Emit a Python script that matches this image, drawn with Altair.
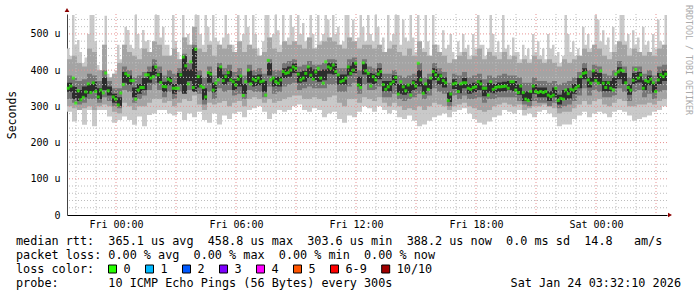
import altair as alt
import pandas as pd

FONT = "DejaVu Sans Mono"
STEP_MIN = 15
START = pd.Timestamp("2026-01-22 21:33:00", tz="UTC")
FRI0 = pd.Timestamp("2026-01-23 00:00:00", tz="UTC")


def ms(ts):
    return int(ts.timestamp() * 1000)


# ---- data (microseconds) ----
# median rtt, one value per 7.5-minute half step (None = no data)
median = [350, 356, 378, 309, 343, 318, 325, 340, 362, 338,
          365, 341, 326, 345, 337, 392, 343, None, 326, 320,
          304, 337, 360, 390, 385, 371, 371, 320, 345, 352,
          352, 387, 387, 378, 382, 409, 387, 366, 355, 354,
          375, 371, 350, 350, 350, 387, 436, 412, 362, 423,
          352, 458, 382, 356, 352, 326, 393, 389, 345, 364,
          373, 409, 371, 382, 393, 373, 368, 359, 375, 384,
          330, 368, 400, 362, 375, 371, 378, 368, 370, 331,
          427, 373, 378, 368, 364, 373, 396, 391, 393, 400,
          409, 405, 389, 373, 378, 391, 409, 386, 375, 395,
          405, 378, 364, 423, 409, 405, 414, 396, 387, 368,
          371, 378, 409, 391, 400, 419, 359, 352, 420, 398,
          391, 356, 382, 373, 389, 396, 360, 347, 354, 362,
          368, 380, 334, 368, 354, 343, 359, 331, 365, 356,
          419, 373, 336, 362, 347, 378, 396, 387, 375, 384,
          371, 365, 316, 334, 362, 364, 341, 362, 365, 365,
          350, 347, 352, 354, 368, 362, 350, 350, 331, 368,
          347, 352, 354, 354, 355, 356, 350, 368, 368, 345,
          338, 356, 338, 320, 316, 341, 356, 341, 338, 341,
          338, 341, 331, 327, 331, 350, 316, 322, 320, 345,
          335, 347, 345, 350, 356, 382, 391, 393, 373, 364,
          398, 371, 364, 398, 364, 352, 365, 350, 345, 389,
          395, 400, 398, 365, 352, 345, 372, 402, 378, 387,
          350, 371, 368, 375, 365, 341, 373, 387, 382, 389]

# highest ping, per 7.5-minute half step
ping_max = [460, 440, 552, 470, 483, 450, 420, 435, 500, 552,
            552, 480, 414, 400, 470, 550, 390, 380, 390, 400,
            470, 430, 470, 520, 511, 470, 460, 552, 500, 460,
            511, 480, 483, 450, 480, 552, 552, 490, 520, 470,
            470, 440, 552, 480, 450, 430, 552, 490, 500, 470,
            520, 552, 552, 500, 470, 552, 520, 480, 552, 490,
            480, 470, 490, 552, 500, 470, 470, 450, 552, 480,
            500, 552, 520, 470, 552, 500, 460, 440, 480, 552,
            552, 490, 500, 552, 510, 470, 552, 480, 490, 552,
            520, 480, 552, 500, 530, 480, 490, 552, 500, 460,
            552, 480, 500, 552, 540, 490, 552, 500, 520, 470,
            480, 552, 552, 490, 540, 480, 490, 552, 520, 480,
            552, 500, 480, 552, 520, 470, 490, 450, 552, 480,
            500, 552, 552, 470, 540, 490, 480, 552, 490, 450,
            552, 480, 460, 552, 480, 440, 552, 470, 470, 450,
            510, 460, 470, 500, 450, 430, 480, 450, 500, 460,
            470, 440, 500, 460, 552, 470, 470, 440, 460, 552,
            500, 450, 480, 450, 552, 460, 470, 440, 490, 450,
            450, 430, 470, 440, 460, 430, 500, 450, 480, 440,
            460, 430, 500, 460, 470, 440, 450, 420, 440, 552,
            500, 450, 480, 440, 460, 440, 520, 470, 500, 460,
            470, 552, 540, 480, 510, 470, 490, 450, 520, 470,
            480, 552, 552, 480, 500, 460, 510, 470, 490, 450,
            520, 470, 480, 450, 500, 460, 540, 480, 470, 552]

# remaining smoke bands, one value per 15-minute step
ping_min = [285, 258, 290, 249, 290, 245, 290, 290, 272, 255,
            262, 272, 262, 249, 272, 245, 276, 280, 290, 290,
            280, 275, 285, 262, 280, 270, 285, 262, 255, 280,
            250, 275, 265, 280, 285, 270, 290, 295, 300, 285,
            265, 280, 290, 285, 290, 300, 305, 290, 285, 295,
            290, 270, 280, 285, 265, 255, 275, 270, 285, 300,
            295, 285, 300, 290, 280, 290, 270, 265, 275, 260,
            245, 250, 260, 270, 275, 280, 270, 285, 290, 295,
            280, 265, 255, 250, 258, 270, 275, 290, 285, 280,
            290, 275, 280, 270, 285, 290, 280, 270, 245, 250,
            250, 265, 275, 285, 270, 280, 285, 280, 270, 285,
            290, 285, 275, 260, 265, 270, 275, 285, 290, 300]

ping_hi2 = [430, 440, 420, 410, 460, 450, 400, 470, 380, 390,
            420, 470, 450, 440, 430, 460, 450, 480, 470, 440,
            440, 460, 430, 490, 470, 520, 460, 450, 470, 440,
            470, 460, 470, 450, 480, 450, 470, 460, 440, 450,
            490, 460, 450, 480, 470, 480, 470, 460, 490, 460,
            470, 480, 490, 480, 470, 460, 490, 480, 460, 470,
            470, 460, 470, 450, 460, 470, 450, 440, 460, 440,
            480, 450, 440, 470, 450, 440, 420, 430, 440, 450,
            430, 440, 460, 430, 450, 440, 430, 450, 430, 440,
            420, 430, 420, 440, 430, 420, 430, 420, 410, 430,
            420, 430, 440, 460, 450, 470, 460, 440, 430, 450,
            480, 470, 440, 460, 450, 440, 450, 440, 460, 470]

ping_lo2 = [300, 295, 290, 295, 300, 290, 300, 305, 300, 285,
            280, 310, 300, 290, 300, 300, 310, 320, 320, 310,
            315, 300, 310, 320, 315, 330, 305, 290, 310, 305,
            310, 315, 300, 310, 315, 300, 320, 325, 320, 310,
            320, 310, 315, 320, 325, 330, 330, 320, 320, 325,
            320, 315, 325, 330, 310, 300, 320, 320, 310, 325,
            320, 315, 325, 310, 300, 310, 300, 290, 295, 290,
            300, 290, 300, 310, 305, 300, 290, 300, 305, 310,
            300, 295, 290, 285, 290, 300, 305, 310, 305, 300,
            305, 290, 295, 300, 300, 305, 300, 295, 280, 285,
            285, 295, 305, 315, 305, 315, 320, 305, 300, 310,
            320, 315, 300, 300, 305, 305, 310, 305, 315, 320]

ping_hi3 = [385, 380, 370, 375, 390, 385, 370, 400, 370, 350,
            350, 410, 400, 380, 385, 395, 410, 430, 410, 385,
            400, 390, 405, 445, 420, 470, 400, 380, 410, 385,
            420, 405, 415, 395, 405, 385, 415, 400, 405, 390,
            430, 400, 400, 420, 425, 430, 410, 415, 425, 415,
            415, 420, 430, 430, 405, 405, 430, 435, 400, 430,
            410, 405, 420, 390, 390, 400, 385, 380, 385, 390,
            420, 380, 390, 420, 405, 395, 365, 390, 385, 395,
            380, 385, 390, 375, 385, 380, 385, 390, 385, 385,
            380, 365, 365, 380, 370, 370, 365, 370, 360, 365,
            370, 380, 395, 420, 400, 415, 410, 390, 385, 400,
            425, 410, 380, 410, 410, 390, 400, 385, 410, 415]

ping_lo3 = [320, 310, 305, 310, 320, 320, 310, 325, 315, 300,
            295, 345, 340, 310, 320, 330, 345, 360, 345, 325,
            340, 320, 340, 360, 345, 360, 335, 305, 340, 320,
            350, 340, 345, 330, 335, 320, 345, 340, 340, 325,
            355, 335, 340, 355, 360, 365, 345, 350, 355, 350,
            350, 350, 360, 360, 340, 340, 355, 365, 335, 360,
            345, 345, 355, 325, 325, 335, 320, 315, 320, 325,
            335, 320, 330, 350, 340, 335, 300, 330, 320, 330,
            320, 320, 325, 310, 320, 320, 325, 325, 325, 325,
            315, 305, 300, 315, 310, 310, 300, 310, 295, 300,
            305, 315, 330, 350, 330, 345, 340, 325, 325, 330,
            350, 340, 315, 340, 345, 325, 335, 320, 340, 345]

ping_hi4 = [365, 355, 345, 355, 362, 368, 350, 380, 355, 335,
            325, 395, 385, 352, 362, 378, 395, 412, 392, 368,
            382, 362, 392, 440, 402, 462, 385, 350, 395, 365,
            408, 388, 398, 375, 385, 362, 398, 385, 388, 370,
            420, 382, 382, 405, 410, 418, 395, 398, 408, 402,
            398, 402, 420, 418, 388, 388, 412, 422, 382, 418,
            392, 390, 405, 370, 370, 386, 362, 360, 362, 372,
            400, 362, 375, 405, 390, 380, 338, 375, 362, 378,
            362, 365, 372, 355, 365, 362, 366, 368, 370, 370,
            360, 342, 340, 360, 352, 352, 342, 352, 332, 345,
            350, 362, 378, 405, 380, 398, 392, 370, 370, 380,
            408, 392, 360, 392, 395, 372, 385, 365, 392, 398]

ping_lo4 = [340, 320, 315, 325, 335, 340, 320, 345, 330, 310,
            300, 365, 360, 325, 335, 345, 365, 385, 365, 340,
            358, 335, 360, 335, 370, 340, 352, 318, 365, 338,
            378, 360, 368, 345, 355, 335, 365, 355, 358, 340,
            385, 355, 355, 378, 382, 392, 365, 368, 378, 372,
            368, 372, 390, 388, 360, 360, 385, 392, 355, 388,
            365, 362, 375, 342, 342, 358, 335, 332, 336, 345,
            355, 335, 348, 372, 360, 352, 312, 348, 336, 350,
            335, 338, 345, 328, 338, 336, 340, 342, 345, 342,
            332, 315, 315, 335, 325, 325, 315, 325, 305, 318,
            322, 335, 350, 375, 352, 368, 362, 342, 342, 350,
            375, 362, 332, 362, 366, 345, 358, 338, 362, 370]

label_hours = [0, 6, 12, 18, 24]          # hours after Fri 00:00
major_hours = [0, 3, 6, 9, 12, 15, 18, 21, 24, 27]
minor_hours = [h for h in range(-2, 28) if h % 3 != 0]
y_major = [100, 200, 300, 400, 500]
y_minor = [v for v in range(20, 560, 20) if v % 100 != 0]
y_ticks = [0, 100, 200, 300, 400, 500]

legend_lines = [
    "median rtt:  365.1 us avg  458.8 us max  303.6 us min  388.2 us now  0.0 ms sd  14.8   am/s",
    "packet loss: 0.00 % avg  0.00 % max  0.00 % min  0.00 % now",
    "loss color:",
    "probe:       10 ICMP Echo Pings (56 Bytes) every 300s",
]
date_text = "Sat Jan 24 03:32:10 2026"
loss_labels = ["0", "1", "2", "3", "4", "5", "6-9", "10/10"]
loss_colors = ["#26ff00", "#00b8ff", "#0059ff", "#7e00ff", "#ff00ff", "#ff5500", "#ff0000", "#a10000"]

# ---- tables ----
n = len(ping_min)
rows = []
for i in range(n + 1):
    j = min(i, n - 1)
    t0 = START + pd.Timedelta(minutes=STEP_MIN * i)
    rows.append(dict(t0=ms(t0), lo2=ping_lo2[j], hi2=ping_hi2[j],
                     lo3=ping_lo3[j], hi3=ping_hi3[j], lo4=ping_lo4[j], hi4=ping_hi4[j]))
sdf = pd.DataFrame(rows)

half = STEP_MIN / 2
nf = len(ping_max)
frows = []
for h in range(nf + 1):
    k = min(h, nf - 1)
    frows.append(dict(t0=ms(START + pd.Timedelta(minutes=half * h)), mx=ping_max[k], mn=ping_min[k // 2]))
fdf = pd.DataFrame(frows)

mdf = pd.DataFrame({
    "tc": [ms(START + pd.Timedelta(minutes=half * h + half / 2)) for h in range(len(median))],
    "med": median,
})

x_scale = alt.Scale(type="utc", domain=[ms(START), ms(START + pd.Timedelta(hours=30))], nice=False)
y_scale = alt.Scale(domain=[0, 555], nice=False, zero=False)

x_axis = alt.Axis(
    values=[ms(FRI0 + pd.Timedelta(hours=h)) for h in label_hours],
    labelExpr="utcFormat(datum.value, '%a %H:%M')",
    grid=False, ticks=False, domain=True, domainColor="#000000", domainWidth=1,
    labelFont=FONT, labelFontSize=10, labelColor="#000000", labelPadding=4, title=None,
    labelOverlap=False, labelFlush=False,
)
y_axis = alt.Axis(
    values=y_ticks,
    labelExpr="datum.value == 0 ? '0' : datum.value + ' u'",
    grid=False, ticks=False, domain=True, domainColor="#444444", domainWidth=1,
    labelFont=FONT, labelFontSize=10, labelColor="#000000", labelPadding=7,
    title="Seconds", titleFont=FONT, titleFontSize=11.5, titleFontWeight="normal",
    titleColor="#000000", titlePadding=12,
)


def X(field):
    return alt.X(f"{field}:T", scale=x_scale, axis=x_axis)


def Y(field):
    return alt.Y(f"{field}:Q", scale=y_scale, axis=y_axis)


def smoke(data, lo, hi, color):
    return alt.Chart(data).mark_area(color=color, interpolate="step-after").encode(
        x=X("t0"), y=Y(hi), y2=alt.Y2(f"{lo}:Q"))


layers = [
    smoke(fdf, "mn", "mx", "#c9c9c9"),
    smoke(sdf, "lo2", "hi2", "#a4a4a4"),
    smoke(sdf, "lo3", "hi3", "#767676"),
    smoke(sdf, "lo4", "hi4", "#2c2c2c"),
]

# grid
layers.append(alt.Chart(pd.DataFrame({"t0": [ms(FRI0 + pd.Timedelta(hours=h)) for h in minor_hours]}))
              .mark_rule(color="#bdbdbd", strokeDash=[1, 2], strokeWidth=1).encode(x=X("t0")))
layers.append(alt.Chart(pd.DataFrame({"v": y_minor}))
              .mark_rule(color="#bdbdbd", strokeDash=[1, 2], strokeWidth=1).encode(y=Y("v")))
layers.append(alt.Chart(pd.DataFrame({"t0": [ms(FRI0 + pd.Timedelta(hours=h)) for h in major_hours]}))
              .mark_rule(color="#e79393", strokeDash=[1, 2], strokeWidth=1).encode(x=X("t0")))
layers.append(alt.Chart(pd.DataFrame({"v": y_major}))
              .mark_rule(color="#e79393", strokeDash=[1, 2], strokeWidth=1).encode(y=Y("v")))

# median
layers.append(alt.Chart(mdf).mark_tick(orient="horizontal", size=3, thickness=3, color="#26ff00").encode(
    x=X("tc"), y=Y("med")))

# axis arrows
layers.append(alt.Chart(pd.DataFrame({"a": [0]})).mark_point(
    shape="triangle-up", size=22, filled=True, color="#8b0000", opacity=1).encode(
    x=alt.value(0), y=alt.value(-4)))
layers.append(alt.Chart(pd.DataFrame({"a": [0]})).mark_point(
    shape="triangle-right", size=22, filled=True, color="#8b0000", opacity=1).encode(
    x=alt.value(603), y=alt.value(201)))

# legend text lines
NB = "\u00a0"
ldf = pd.DataFrame({"text": [s.replace(" ", NB) for s in legend_lines], "row": [0, 1, 2, 3]})
layers.append(alt.Chart(ldf).mark_text(
    font=FONT, fontSize=11.8, align="left", baseline="middle", color="#000000").transform_calculate(
    py="227 + 14 * datum.row").encode(
    x=alt.value(-51), y=alt.Y("py:Q", scale=None), text="text:N"))
layers.append(alt.Chart(pd.DataFrame({"text": [date_text.replace(" ", NB)]})).mark_text(
    font=FONT, fontSize=11.8, align="right", baseline="middle", color="#000000").encode(
    x=alt.value(614), y=alt.value(269), text="text:N"))

# loss colour legend
box_left = []
pos = 41.5
for lab in loss_labels:
    box_left.append(pos)
    pos += 37 + 7.1 * (len(lab) - 1)
kdf = pd.DataFrame({"label": loss_labels, "color": loss_colors,
                    "bx": [b + 4 for b in box_left], "tx": [b + 15 for b in box_left]})
layers.append(alt.Chart(kdf).mark_square(size=64, filled=True, stroke="#000000", strokeWidth=1, opacity=1).encode(
    x=alt.X("bx:Q", scale=None), y=alt.value(255),
    color=alt.Color("color:N", scale=None)))
layers.append(alt.Chart(kdf).mark_text(
    font=FONT, fontSize=11.8, align="left", baseline="middle", color="#000000").encode(
    x=alt.X("tx:Q", scale=None), y=alt.value(255), text="label:N"))

# watermark
layers.append(alt.Chart(pd.DataFrame({"text": ["RRDTOOL / TOBI OETIKER".replace(" ", NB)]})).mark_text(
    font=FONT, fontSize=8.3, align="center", baseline="middle", angle=90, color="#aaaaaa").encode(
    x=alt.value(621), y=alt.value(46), text="text:N"))

chart = alt.layer(*layers).properties(
    width=600, height=201,
    autosize=alt.AutoSizeParams(type="none"),
    padding={"left": 67, "top": 14, "right": 30, "bottom": 82},
    background="#ffffff",
).configure_view(stroke=None)

chart.save("out.html", embed_options={"renderer": "svg", "actions": False})
